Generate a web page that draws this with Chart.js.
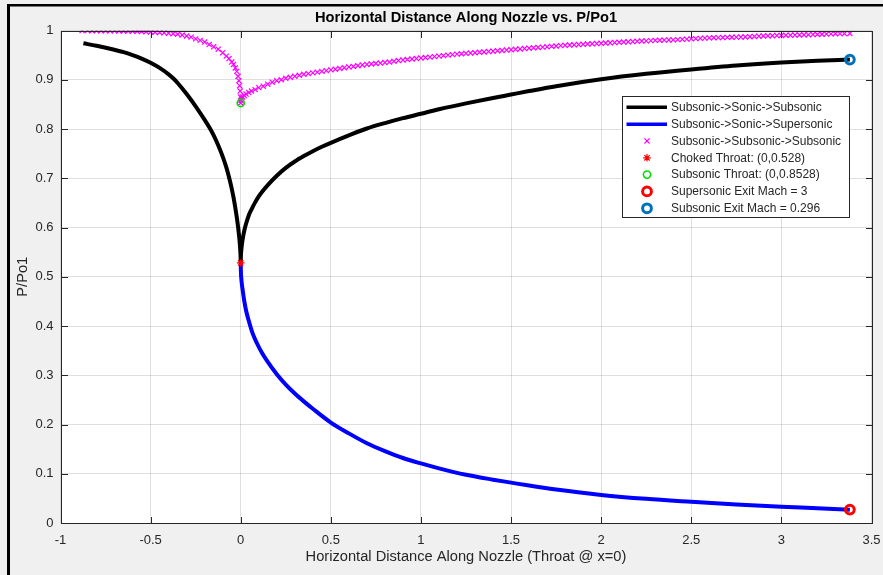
<!DOCTYPE html>
<html>
<head>
<meta charset="utf-8">
<script src="https://cdn.jsdelivr.net/npm/chart.js@4.4.0/dist/chart.umd.min.js"></script>
<style>
  html, body { margin: 0; padding: 0; background: #f0f0f0; }
  #wrap { width: 883px; height: 575px; }
</style>
</head>
<body>
<div id="wrap"><canvas id="myChart" width="883" height="575"></canvas></div>
<script>

// [x, P/Po1]
var blackPts = [
    [-0.873, 0.974], [-0.8, 0.969], [-0.725, 0.963], [-0.65, 0.956], [-0.6, 0.950],
    [-0.55, 0.943], [-0.5, 0.9345], [-0.45, 0.924], [-0.4, 0.911], [-0.375, 0.903],
    [-0.35, 0.8935], [-0.3, 0.871], [-0.25, 0.846], [-0.2, 0.8185], [-0.172, 0.802],
    [-0.15, 0.787], [-0.125, 0.767], [-0.1, 0.744], [-0.079, 0.721], [-0.06, 0.695],
    [-0.05, 0.679], [-0.04, 0.661], [-0.03, 0.640], [-0.024, 0.626], [-0.02, 0.616],
    [-0.015, 0.602], [-0.01, 0.586], [-0.006, 0.571], [-0.003, 0.556], [-0.001, 0.543],
    [0, 0.528],
    [0.001, 0.543], [0.003, 0.553], [0.006, 0.564], [0.009, 0.572], [0.015, 0.585],
    [0.02, 0.594], [0.03, 0.608], [0.046, 0.626], [0.06, 0.637], [0.08, 0.651],
    [0.1, 0.663], [0.12, 0.673], [0.15, 0.686], [0.2, 0.705], [0.25, 0.721],
    [0.3, 0.734], [0.35, 0.745], [0.4, 0.755], [0.45, 0.764], [0.5, 0.772],
    [0.6, 0.787], [0.7, 0.801], [0.8, 0.812], [0.9, 0.822], [1.0, 0.831],
    [1.1, 0.840], [1.25, 0.852], [1.4, 0.863], [1.5, 0.870], [1.6, 0.877],
    [1.75, 0.887], [2.0, 0.901], [2.25, 0.912], [2.5, 0.921], [2.75, 0.929],
    [3.0, 0.935], [3.2, 0.9385], [3.38, 0.941]
];

var bluePts = [
    [0, 0.528], [0.001, 0.510], [0.003, 0.497], [0.006, 0.486], [0.01, 0.475],
    [0.02, 0.450], [0.03, 0.431], [0.045, 0.410], [0.065, 0.386], [0.09, 0.365],
    [0.12, 0.344], [0.15, 0.327], [0.2, 0.302], [0.25, 0.281], [0.3, 0.263],
    [0.35, 0.247], [0.4, 0.232], [0.5, 0.204], [0.6, 0.182], [0.7, 0.162],
    [0.8, 0.146], [0.9, 0.132], [1.0, 0.121], [1.1, 0.111], [1.25, 0.098],
    [1.4, 0.088], [1.5, 0.082], [1.6, 0.076], [1.75, 0.068], [2.0, 0.057],
    [2.25, 0.049], [2.5, 0.043], [2.75, 0.0375], [3.0, 0.033], [3.2, 0.030],
    [3.38, 0.027]
];

var magentaPts = [
    [-0.88, 0.9998], [-0.85, 0.9997], [-0.825, 0.9996], [-0.8, 0.9996], [-0.775, 0.9995],
    [-0.75, 0.9994], [-0.725, 0.9993], [-0.7, 0.9992], [-0.675, 0.9991], [-0.65, 0.999],
    [-0.625, 0.9988], [-0.6, 0.9986], [-0.575, 0.9983], [-0.55, 0.998], [-0.525, 0.9975],
    [-0.5, 0.997], [-0.475, 0.9965], [-0.45, 0.996], [-0.425, 0.9953], [-0.4, 0.9945],
    [-0.375, 0.9935], [-0.35, 0.9925], [-0.325, 0.9908], [-0.3, 0.989], [-0.275, 0.9865],
    [-0.25, 0.983], [-0.225, 0.980], [-0.2, 0.9765], [-0.175, 0.9715], [-0.15, 0.967],
    [-0.125, 0.962], [-0.1, 0.955], [-0.08, 0.948], [-0.065, 0.943], [-0.05, 0.936],
    [-0.04, 0.931], [-0.03, 0.924], [-0.022, 0.917], [-0.015, 0.907], [-0.01, 0.898],
    [-0.006, 0.888], [-0.003, 0.877], [-0.001, 0.865], [0, 0.8528],
    [0.002, 0.858], [0.005, 0.862], [0.01, 0.865], [0.02, 0.868], [0.03, 0.871],
    [0.045, 0.874], [0.06, 0.877], [0.08, 0.880], [0.1, 0.884], [0.125, 0.887],
    [0.15, 0.891], [0.175, 0.895], [0.2, 0.898], [0.225, 0.900], [0.25, 0.903],
    [0.275, 0.905], [0.3, 0.907], [0.325, 0.909], [0.35, 0.911], [0.375, 0.9125],
    [0.4, 0.914], [0.425, 0.9155], [0.45, 0.917], [0.475, 0.9185], [0.5, 0.920],
    [0.525, 0.9215], [0.55, 0.923], [0.575, 0.9245], [0.6, 0.926], [0.625, 0.927],
    [0.65, 0.9285], [0.675, 0.930], [0.7, 0.931], [0.725, 0.932], [0.75, 0.933],
    [0.775, 0.934], [0.8, 0.935], [0.825, 0.936], [0.85, 0.9375], [0.875, 0.939],
    [0.9, 0.940], [0.925, 0.941], [0.95, 0.942], [0.975, 0.943], [1.0, 0.944],
    [1.025, 0.945], [1.05, 0.946], [1.075, 0.947], [1.1, 0.948], [1.125, 0.949],
    [1.15, 0.950], [1.175, 0.951], [1.2, 0.952], [1.225, 0.9528], [1.25, 0.9535],
    [1.275, 0.9543], [1.3, 0.955], [1.325, 0.9558], [1.35, 0.9565], [1.375, 0.9573],
    [1.4, 0.958], [1.425, 0.9588], [1.45, 0.9595], [1.475, 0.9603], [1.5, 0.961],
    [1.525, 0.9618], [1.55, 0.9625], [1.575, 0.9633], [1.6, 0.964], [1.625, 0.9648],
    [1.65, 0.9655], [1.675, 0.9663], [1.7, 0.967], [1.725, 0.9678], [1.75, 0.9685],
    [1.775, 0.9693], [1.8, 0.970], [1.825, 0.9705], [1.85, 0.971], [1.875, 0.9715],
    [1.9, 0.972], [1.925, 0.9725], [1.95, 0.973], [1.975, 0.9735], [2.0, 0.974],
    [2.025, 0.9745], [2.05, 0.975], [2.075, 0.9755], [2.1, 0.976], [2.125, 0.9765],
    [2.15, 0.977], [2.175, 0.9775], [2.2, 0.978], [2.225, 0.9785], [2.25, 0.979],
    [2.275, 0.9795], [2.3, 0.980], [2.325, 0.9803], [2.35, 0.9805], [2.375, 0.9808],
    [2.4, 0.981], [2.425, 0.9815], [2.45, 0.982], [2.475, 0.9825], [2.5, 0.983],
    [2.525, 0.9835], [2.55, 0.984], [2.575, 0.9845], [2.6, 0.985], [2.625, 0.9853],
    [2.65, 0.9855], [2.675, 0.9858], [2.7, 0.986], [2.725, 0.9863], [2.75, 0.9865],
    [2.775, 0.9868], [2.8, 0.987], [2.825, 0.9875], [2.85, 0.988], [2.875, 0.9885],
    [2.9, 0.989], [2.925, 0.9893], [2.95, 0.9895], [2.975, 0.9898], [3.0, 0.990],
    [3.025, 0.9903], [3.05, 0.9905], [3.075, 0.9908], [3.1, 0.991], [3.125, 0.9913],
    [3.15, 0.9915], [3.175, 0.9918], [3.2, 0.992], [3.225, 0.9924], [3.25, 0.9928],
    [3.275, 0.9931], [3.3, 0.9935], [3.325, 0.9937], [3.35, 0.9939], [3.38, 0.994]
];

var chokedThroat = [0, 0.528];
var subsonicThroat = [0, 0.8528];
var supersonicExit = [3.38, 0.0272];
var subsonicExit = [3.38, 0.941];

var seriesLabels = [
    "Subsonic->Sonic->Subsonic",
    "Subsonic->Sonic->Supersonic",
    "Subsonic->Subsonic->Subsonic",
    "Choked Throat: (0,0.528)",
    "Subsonic Throat: (0,0.8528)",
    "Supersonic Exit Mach = 3",
    "Subsonic Exit Mach = 0.296"
];

var xMin = -1, xMax = 3.5, xStep = 0.5;
var yMin = 0, yMax = 1, yStep = 0.1;


function toXY(pts) {
    return pts.map(function (p) { return { x: p[0], y: p[1] }; });
}

var FONT = "'Liberation Sans', Arial, Helvetica, sans-serif";
var AXIS = '#262626';
Chart.defaults.font.family = FONT;

var datasets = [
    {
        label: seriesLabels[0], data: toXY(blackPts), showLine: true,
        borderColor: '#000000', borderWidth: 4, pointRadius: 0,
        borderJoinStyle: 'round', cubicInterpolationMode: 'monotone', order: 6
    },
    {
        label: seriesLabels[1], data: toXY(bluePts), showLine: true,
        borderColor: '#0000ff', borderWidth: 4, pointRadius: 0,
        borderJoinStyle: 'round', cubicInterpolationMode: 'monotone', order: 5
    },
    {
        label: seriesLabels[2], data: toXY(magentaPts), showLine: false,
        pointStyle: 'crossRot', pointRadius: 3.6, pointBorderWidth: 1.2,
        pointBorderColor: '#ff00ff', pointBackgroundColor: '#ff00ff', order: 4
    },
    {
        label: seriesLabels[3], data: toXY([chokedThroat]),
        pointStyle: 'star', pointRadius: 3.8, pointBorderWidth: 1.2,
        pointBorderColor: '#ff0000', pointBackgroundColor: '#ff0000', order: 3
    },
    {
        label: seriesLabels[4], data: toXY([subsonicThroat]),
        pointStyle: 'circle', pointRadius: 3.6, pointBorderWidth: 1.6,
        pointBorderColor: '#00e000', pointBackgroundColor: 'rgba(0,0,0,0)', order: 2
    },
    {
        label: seriesLabels[5], data: toXY([supersonicExit]),
        pointStyle: 'circle', pointRadius: 4.4, pointBorderWidth: 3,
        pointBorderColor: '#ff0000', pointBackgroundColor: 'rgba(0,0,0,0)', order: 1
    },
    {
        label: seriesLabels[6], data: toXY([subsonicExit]),
        pointStyle: 'circle', pointRadius: 4.4, pointBorderWidth: 3,
        pointBorderColor: '#0072bd', pointBackgroundColor: 'rgba(0,0,0,0)', order: 0
    }
];

// figure frame, axes box with inward ticks, and the legend box
var matlabLook = {
    id: 'matlabLook',
    beforeDraw: function (chart) {
        var c = chart.ctx, a = chart.chartArea;
        c.save();
        c.fillStyle = '#f0f0f0';
        c.fillRect(0, 0, chart.width, chart.height);
        c.fillStyle = '#000';
        c.fillRect(7, 4, chart.width - 7, 2.5);
        c.fillRect(7, 4, 3, chart.height - 4);
        c.fillStyle = '#ffffff';
        c.fillRect(a.left, a.top, a.right - a.left, a.bottom - a.top);
        c.restore();
    },
    afterDatasetsDraw: function (chart) {
        var c = chart.ctx, a = chart.chartArea;
        var xs = chart.scales.x, ys = chart.scales.y;
        var L = Math.round(a.left) + 0.5, R = Math.round(a.right) + 0.5;
        var T = Math.round(a.top) + 0.5, B = Math.round(a.bottom) + 0.5;
        c.save();
        c.strokeStyle = AXIS;
        c.lineWidth = 1;
        c.beginPath();
        xs.ticks.forEach(function (t) {
            var px = Math.round(xs.getPixelForValue(t.value)) + 0.5;
            c.moveTo(px, B); c.lineTo(px, B - 6.5);
            c.moveTo(px, T); c.lineTo(px, T + 6.5);
        });
        ys.ticks.forEach(function (t) {
            var py = Math.round(ys.getPixelForValue(t.value)) + 0.5;
            c.moveTo(L, py); c.lineTo(L + 6.5, py);
            c.moveTo(R, py); c.lineTo(R - 6.5, py);
        });
        c.stroke();
        c.strokeRect(L, T, R - L, B - T);
        c.restore();
    },
    afterDraw: function (chart) {
        var c = chart.ctx;
        var lx = 622.5, ly = 96.5, lw = 227, lh = 121, rowH = 16.83;
        c.save();
        c.fillStyle = '#ffffff';
        c.fillRect(lx, ly, lw, lh);
        c.strokeStyle = AXIS;
        c.lineWidth = 1;
        c.strokeRect(lx, ly, lw, lh);
        chart.data.datasets.forEach(function (ds, i) {
            var cy = ly + 10.8 + i * rowH;
            if (ds.showLine) {
                c.strokeStyle = ds.borderColor;
                c.lineWidth = 3.5;
                c.beginPath();
                c.moveTo(lx + 4, cy);
                c.lineTo(lx + 44.5, cy);
                c.stroke();
            } else {
                c.strokeStyle = ds.pointBorderColor;
                c.fillStyle = ds.pointBackgroundColor;
                c.lineWidth = ds.pointBorderWidth;
                Chart.helpers.drawPoint(c, {
                    pointStyle: ds.pointStyle, radius: ds.pointRadius,
                    rotation: 0, borderWidth: ds.pointBorderWidth
                }, lx + 24.5, cy);
            }
            c.fillStyle = AXIS;
            c.font = '12px ' + FONT;
            c.textBaseline = 'middle';
            c.textAlign = 'left';
            c.fillText(ds.label, lx + 48.5, cy + 0.5);
        });
        c.restore();
    }
};

function tickText(v) {
    return String(Math.round(v * 10) / 10);
}

var ctx = document.getElementById('myChart');

var chart = new Chart(ctx, {
    type: 'scatter',
    data: { datasets: datasets },
    plugins: [matlabLook],
    options: {
        responsive: false,
        animation: false,
        devicePixelRatio: 1,
        layout: { padding: { left: 0, right: 11.5, top: 0, bottom: 0 } },
        plugins: {
            legend: { display: false },
            tooltip: { enabled: false },
            title: {
                display: true,
                fullSize: false,
                text: 'Horizontal Distance Along Nozzle vs. P/Po1',
                color: '#000000',
                font: { size: 14.67, weight: 'bold', lineHeight: 1.2 },
                padding: { top: 9, bottom: 3.9 }
            }
        },
        scales: {
            x: {
                type: 'linear', min: xMin, max: xMax,
                ticks: { stepSize: xStep, padding: 0, color: AXIS, font: { size: 13 }, maxRotation: 0, callback: tickText },
                grid: { color: 'rgba(38,38,38,0.15)', drawTicks: true, tickLength: 10, tickColor: 'rgba(0,0,0,0)' },
                border: { display: false },
                title: {
                    display: true, text: 'Horizontal Distance Along Nozzle (Throat @ x=0)',
                    color: AXIS, font: { size: 14.67, lineHeight: 1.2 }, padding: { top: 0, bottom: 9 }
                },
                afterFit: function (s) { s.height = 52; }
            },
            y: {
                type: 'linear', min: yMin, max: yMax,
                ticks: { stepSize: yStep, padding: 7, color: AXIS, font: { size: 13 }, callback: tickText },
                grid: { color: 'rgba(38,38,38,0.15)', drawTicks: false },
                border: { display: false },
                title: {
                    display: true, text: 'P/Po1',
                    color: AXIS, font: { size: 14.67, lineHeight: 1.2 }, padding: { top: 13.7, bottom: 0 }
                },
                afterFit: function (s) { s.width = 60.5; }
            }
        }
    }
});

</script>
</body>
</html>
